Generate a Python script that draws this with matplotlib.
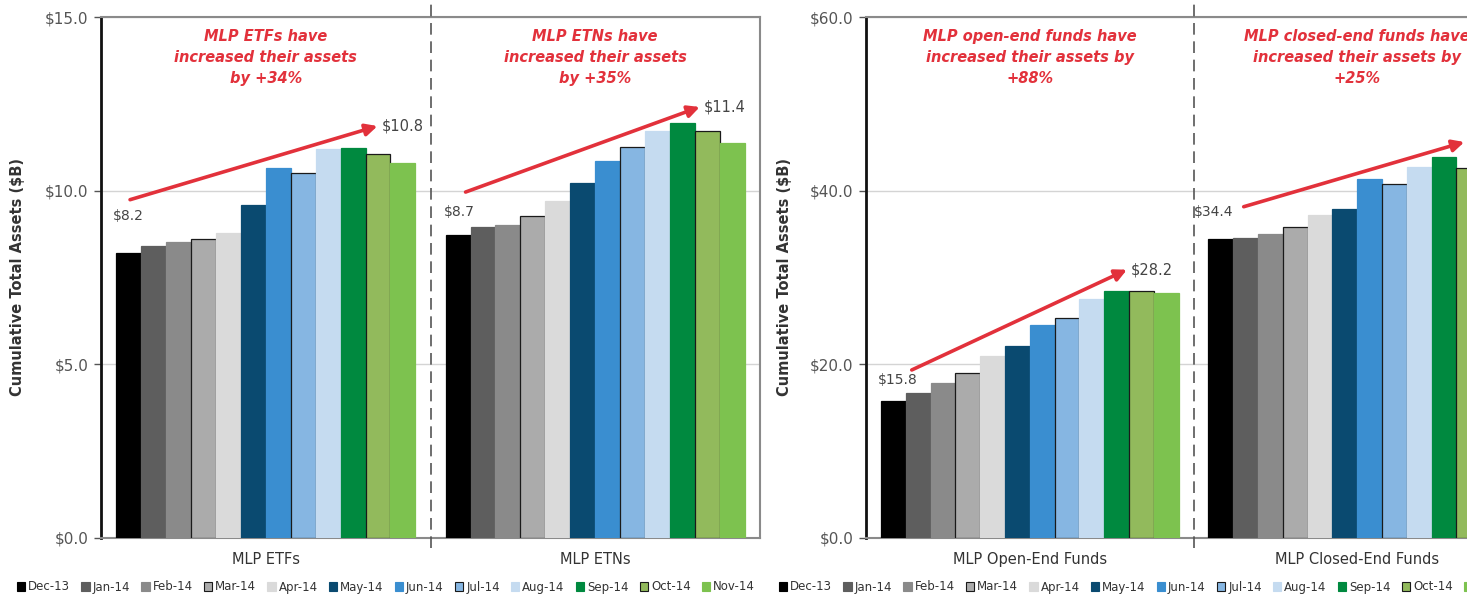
import matplotlib
matplotlib.use('Agg')
import matplotlib.pyplot as plt
from matplotlib.patches import Patch
from matplotlib.ticker import FuncFormatter, MultipleLocator

# ---------------- data ----------------
months = ['Dec-13', 'Jan-14', 'Feb-14', 'Mar-14', 'Apr-14', 'May-14',
          'Jun-14', 'Jul-14', 'Aug-14', 'Sep-14', 'Oct-14', 'Nov-14']

left_groups = ['MLP ETFs', 'MLP ETNs']
etfs = [8.20, 8.41, 8.53, 8.60, 8.78, 9.59, 10.65, 10.50, 11.21, 11.23, 11.06, 10.80]
etns = [8.71, 8.94, 9.01, 9.26, 9.70, 10.23, 10.84, 11.25, 11.71, 11.95, 11.71, 11.36]

right_groups = ['MLP Open-End Funds', 'MLP Closed-End Funds']
open_end = [15.8, 16.7, 17.9, 19.0, 21.0, 22.1, 24.5, 25.3, 27.5, 28.5, 28.4, 28.2]
closed_end = [34.4, 34.6, 35.0, 35.8, 37.2, 37.9, 41.4, 40.8, 42.7, 43.9, 42.6, 43.0]

headlines_left = ['MLP ETFs have\nincreased their assets\nby +34%',
                  'MLP ETNs have\nincreased their assets\nby +35%']
headlines_right = ['MLP open-end funds have\nincreased their assets by\n+88%',
                   'MLP closed-end funds have\nincreased their assets by\n+25%']

# ---------------- style ----------------
colors = ['#000000', '#5e5e5e', '#8a8a8a', '#ababab', '#dadada', '#0a4a70',
          '#3a8ed0', '#86b6e2', '#c5dbf0', '#00893f', '#92ba5c', '#7dc24f']
outlined = {'Mar-14', 'Jul-14', 'Oct-14'}
RED = '#e2313b'
W = 0.0757

# arrow geometry per panel group: (start bar idx, start dy, end bar idx, end dy, start-label dx, start-label dy)
arrows_left = [(0.06, 1.54, 9.98, 1.06, 0.036, 1.08),
               (0.30, 1.25, 9.69, 1.05, 0.040, 0.68)]
arrows_right = [(0.74, 3.55, 9.42, 2.70, 0.037, 2.40),
                (0.92, 3.75, 9.82, 2.60, 0.000, 3.10)]

fig = plt.figure(figsize=(14.67, 5.99), dpi=100)
ax1 = fig.add_axes([101 / 1467, 61 / 599, 659 / 1467, 521 / 599])
ax2 = fig.add_axes([866 / 1467, 61 / 599, 655 / 1467, 521 / 599])


def bar_x(g, i):
    return g + 0.5 + (i - 5.5) * W


def draw(ax, groups, series, headlines, arrows, ymax, step):
    for g, vals in enumerate(series):
        for i, (m, v) in enumerate(zip(months, vals)):
            ec = '#1a1a1a' if m in outlined else colors[i]
            ax.bar(bar_x(g, i), v, width=W, color=colors[i], edgecolor=ec,
                   linewidth=0.9, zorder=3)
        sbi, sdy, ebi, edy, ldx, ldy = arrows[g]
        sx, sy = bar_x(g, sbi), vals[0] + sdy
        ex, ey = bar_x(g, ebi), vals[-1] + edy
        ax.annotate('', xy=(ex, ey), xytext=(sx, sy),
                    arrowprops=dict(arrowstyle='-|>,head_length=0.7,head_width=0.35',
                                    color=RED, lw=2.6, shrinkA=0, shrinkB=0),
                    zorder=5)
        ax.text(g + ldx, vals[0] + ldy, f'${vals[0]:.1f}', ha='left', va='center',
                fontsize=10, color='#444444', zorder=6)
        ax.text(ex + 0.012, ey, f'${vals[-1]:.1f}', ha='left', va='center',
                fontsize=10.5, color='#444444', zorder=6)
        ax.text(g + 0.5, ymax * 0.977, headlines[g], ha='center', va='top',
                color=RED, fontsize=10.5, fontweight='bold', style='italic',
                linespacing=1.5, zorder=6)
    ax.set_xlim(0, 2)
    ax.set_ylim(0, ymax)
    ax.yaxis.set_major_locator(MultipleLocator(step))
    ax.yaxis.set_major_formatter(FuncFormatter(lambda v, p: f'${v:.1f}'))
    ax.grid(axis='y', color='#d4d4d4', lw=1, zorder=0)
    ax.set_axisbelow(True)
    ax.set_xticks([0.5, 1.5])
    ax.set_xticklabels(groups, fontsize=10.5, color='#333333')
    ax.tick_params(axis='x', length=0, pad=10)
    ax.tick_params(axis='y', labelsize=11, labelcolor='#555555', color='#555555',
                   length=5, width=1, pad=4)
    ax.spines['left'].set_color('#111111')
    ax.spines['left'].set_linewidth(2)
    for s in ('top', 'right', 'bottom'):
        ax.spines[s].set_color('#8a8a8a')
        ax.spines[s].set_linewidth(1.5)
    ax.axvline(1, ymin=-0.02, ymax=1.035, clip_on=False, color='#555555',
               lw=1.2, ls=(0, (7, 4)), zorder=4)


draw(ax1, left_groups, [etfs, etns], headlines_left, arrows_left, 15.0, 5.0)
draw(ax2, right_groups, [open_end, closed_end], headlines_right, arrows_right, 60.0, 20.0)

for x in (18, 785):
    fig.text(x / 1467, 1 - 277 / 599, 'Cumulative Total Assets ($B)', rotation=90,
             ha='center', va='center', fontsize=10.5, fontweight='bold', color='#333333')

handles = [Patch(facecolor=c, edgecolor=('#1a1a1a' if m in outlined else c), lw=0.8)
           for m, c in zip(months, colors)]
for cx in (386, 1148):
    fig.legend(handles, months, loc='center', bbox_to_anchor=(cx / 1467, 1 - 587 / 599),
               ncol=12, frameon=False, fontsize=8.5, handlelength=0.7, handleheight=0.7,
               handletextpad=0.25, columnspacing=0.95, borderpad=0, labelcolor='#333333')

fig.savefig('out.png', dpi=100)
